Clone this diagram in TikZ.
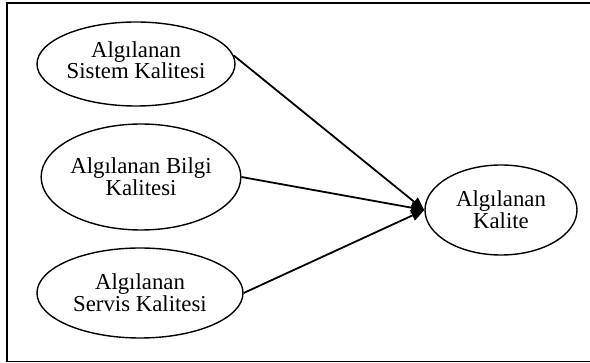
\documentclass[tikz,border=0pt]{standalone}
\usepackage{fontspec}
\setmainfont{Liberation Serif}
\usetikzlibrary{shapes.geometric,arrows.meta}
\begin{document}
\begin{tikzpicture}[x=1pt,y=-1pt,
  oval/.style={ellipse,draw,line width=1.4pt,inner sep=0pt,align=center,
    font=\fontsize{22.8}{21.8}\selectfont},
  conn/.style={line width=1.8pt,-{Triangle[length=13pt,width=11pt]}},
  frame/.style={line width=1.8pt}]
\useasboundingbox (0,0) rectangle (590,363);
\draw[frame] (600,3) -- (7,3) -- (7,361.5) -- (600,361.5);
\node[oval,minimum width=198pt,minimum height=84pt,text depth=8pt] (e1) at (136,64) {Algılanan\\Sistem Kalitesi};
\node[oval,minimum width=198pt,minimum height=106pt] (e2) at (141,177) {Algılanan Bilgi\\Kalitesi};
\node[oval,minimum width=206pt,minimum height=90pt] (e3) at (140,293) {Algılanan\\Servis Kalitesi};
\node[oval,minimum width=152pt,minimum height=90pt] (e4) at (501,210) {Algılanan\\Kalite};
\draw[conn] (e1.5) -- (e4.west);
\draw[conn] (e2.east) -- (e4.west);
\draw[conn] (e3.east) -- (e4.west);
\end{tikzpicture}
\end{document}
